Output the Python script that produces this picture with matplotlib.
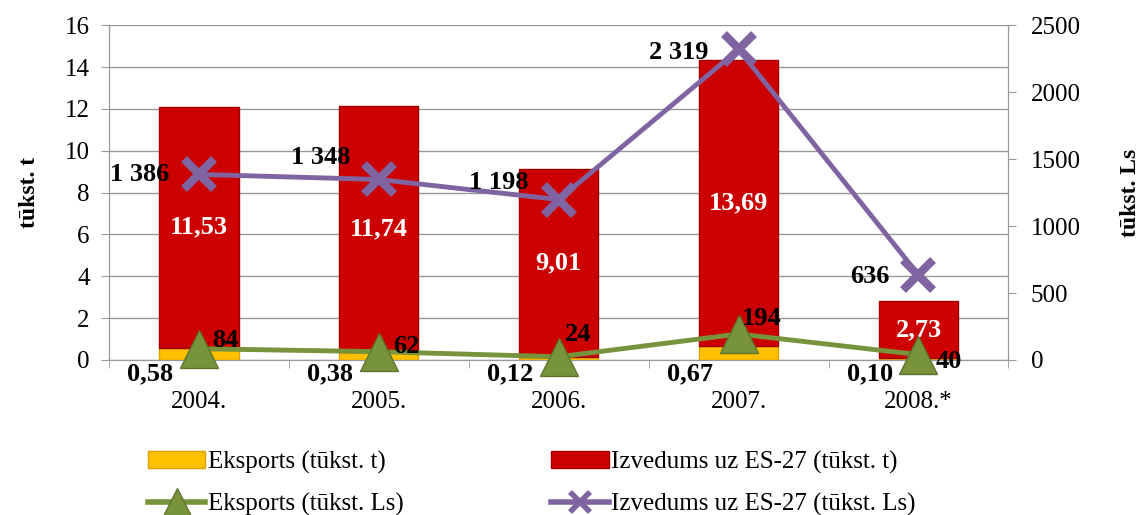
import numpy as np
import matplotlib
matplotlib.use('Agg')
import matplotlib.pyplot as plt
from matplotlib.ticker import MultipleLocator
from matplotlib.patches import Patch
from matplotlib.lines import Line2D

plt.rcParams['font.family'] = ['Liberation Serif', 'DejaVu Serif']

years = ['2004.', '2005.', '2006.', '2007.', '2008.*']
eksports_t = [0.58, 0.38, 0.12, 0.67, 0.10]
izvedums_t = [11.53, 11.74, 9.01, 13.69, 2.73]
eksports_ls = [84, 62, 24, 194, 40]
izvedums_ls = [1386, 1348, 1198, 2319, 636]

# label offsets in points (style only)
izv_off = [(-43, 0), (-42, 16), (-43, 12), (-43, -2), (-35, -1)]
eks_off = [(19, 6), (20, 4), (14, 16), (17, 11), (22, -5)]

x = np.arange(len(years))
fig = plt.figure(figsize=(11.4, 5.15), dpi=100)
ax = fig.add_axes([0.0956, 0.301, 0.789, 0.65])
ax2 = ax.twinx()

yellow = '#FFC000'
red = '#CC0000'
grey = '#999999'
bw = 0.44
ax.bar(x, eksports_t, bw, color=yellow, edgecolor='#D9A400', linewidth=1, zorder=3)
ax.bar(x, izvedums_t, bw, bottom=eksports_t, color=red, edgecolor='#A00000',
       linewidth=1, zorder=3)

ax.set_xlim(-0.5, len(years) - 0.5)
ax.set_ylim(0, 16)
ax.yaxis.set_major_locator(MultipleLocator(2))
ax.grid(axis='y', color=grey, linewidth=1, zorder=0)
ax.set_axisbelow(True)
ax.set_xticks(x)
ax.set_xticklabels(years, fontsize=18)
ax.set_xticks(np.arange(len(years) + 1) - 0.5, minor=True)
ax.tick_params(axis='x', which='major', length=0, pad=22)
ax.tick_params(axis='x', which='minor', length=6, color=grey)
ax.tick_params(axis='y', labelsize=18, length=6, color=grey, pad=8)
ax.spines['top'].set_visible(False)
for s in ['left', 'bottom', 'right']:
    ax.spines[s].set_color(grey)
ax.set_ylabel('tūkst. t', fontsize=17, fontweight='bold', labelpad=18)

for i in range(len(years)):
    ax.text(x[i], eksports_t[i] + izvedums_t[i] / 2, f'{izvedums_t[i]:.2f}'.replace('.', ','),
            ha='center', va='center', color='white', fontsize=19, fontweight='bold', zorder=5)
    ax.annotate(f'{eksports_t[i]:.2f}'.replace('.', ','), (x[i] - 0.27, 0),
                xytext=(0, -2), textcoords='offset points', ha='center', va='top',
                fontsize=19, fontweight='bold', annotation_clip=False, zorder=6)

green = '#77933C'
purple = '#8064A2'
ax2.plot(x, eksports_ls, color=green, linewidth=3.5, marker='^', markersize=28,
         markerfacecolor=green, markeredgecolor='#5E7530', markeredgewidth=1, zorder=4,
         clip_on=False)
ax2.plot(x, izvedums_ls, color=purple, linewidth=3.5, marker='x', markersize=22,
         markeredgewidth=6, zorder=4, clip_on=False)
ax2.set_ylim(0, 2500)
ax2.yaxis.set_major_locator(MultipleLocator(500))
ax2.tick_params(axis='y', labelsize=18, length=6, color=grey, pad=10)
ax2.spines['top'].set_visible(False)
for s in ['left', 'bottom', 'right']:
    ax2.spines[s].set_color(grey)
ax2.set_ylabel('tūkst. Ls', fontsize=17, fontweight='bold', labelpad=28)

for i in range(len(years)):
    ax2.annotate(f'{izvedums_ls[i]:,}'.replace(',', ' '), (x[i], izvedums_ls[i]),
                 xytext=izv_off[i], textcoords='offset points', ha='center', va='center',
                 fontsize=19, fontweight='bold', zorder=6)
    ax2.annotate(str(eksports_ls[i]), (x[i], eksports_ls[i]),
                 xytext=eks_off[i], textcoords='offset points', ha='center', va='center',
                 fontsize=19, fontweight='bold', zorder=6)

handles = [
    Patch(facecolor=yellow, edgecolor='#D9A400'),
    Line2D([], [], color=green, linewidth=4, marker='^', markersize=20,
           markerfacecolor=green, markeredgecolor='#5E7530'),
    Patch(facecolor=red, edgecolor='#A00000'),
    Line2D([], [], color=purple, linewidth=4, marker='x', markersize=15, markeredgewidth=4),
]
labels = ['Eksports (tūkst. t)', 'Eksports (tūkst. Ls)',
          'Izvedums uz ES-27 (tūkst. t)', 'Izvedums uz ES-27 (tūkst. Ls)']
fig.legend(handles, labels, loc='lower left', bbox_to_anchor=(0.11, -0.045), ncol=2,
           frameon=False, fontsize=18, columnspacing=5.9, handlelength=2.3,
           handletextpad=0.1, labelspacing=0.75)

fig.savefig('out.png', dpi=100)
